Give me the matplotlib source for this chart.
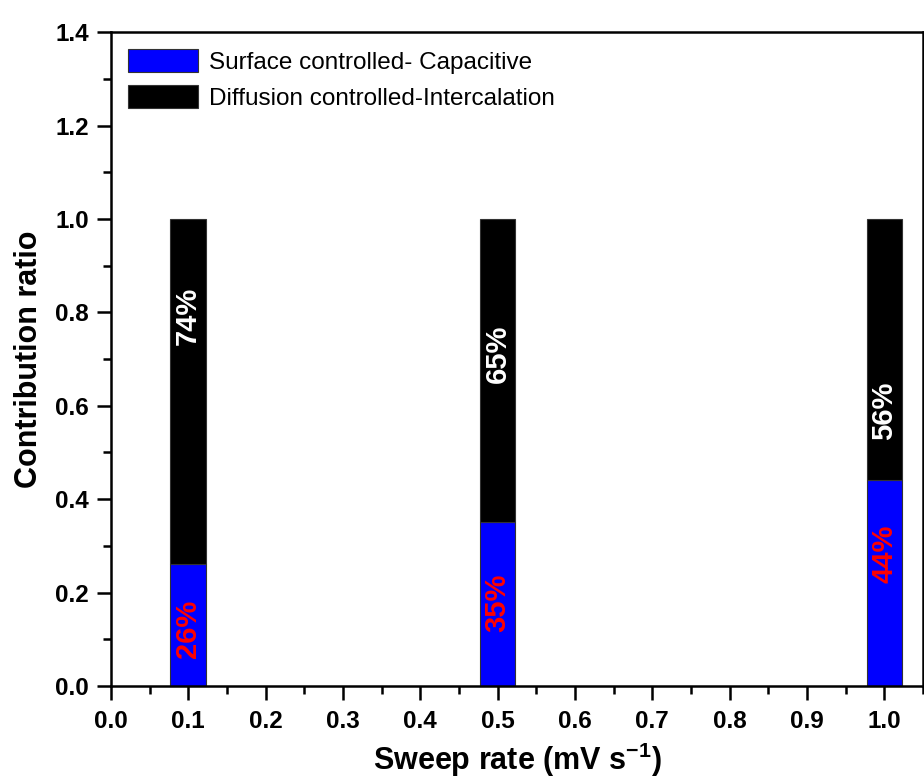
import matplotlib.pyplot as plt
from matplotlib.ticker import MultipleLocator

# data
sweep_rate = [0.1, 0.5, 1.0]
capacitive = [0.26, 0.35, 0.44]
intercalation = [0.74, 0.65, 0.56]
cap_labels = ['26%', '35%', '44%']
int_labels = ['74%', '65%', '56%']

plt.rcParams['font.family'] = ['Liberation Sans', 'DejaVu Sans']
plt.rcParams['mathtext.fontset'] = 'custom'
plt.rcParams['mathtext.rm'] = 'Liberation Sans'
plt.rcParams['mathtext.bf'] = 'Liberation Sans:bold'

fig = plt.figure(figsize=(9.24, 7.83), dpi=100)
ax = fig.add_axes([0.120, 0.124, 0.879, 0.835])

ax.bar(sweep_rate, capacitive, width=0.046, color='#0000ff',
       edgecolor='#333333', linewidth=0.8, label='Surface controlled- Capacitive')
ax.bar(sweep_rate, intercalation, width=0.046, bottom=capacitive, color='black',
       edgecolor='#333333', linewidth=0.8, label='Diffusion controlled-Intercalation')

# percentage text inside bars
cap_y = [0.122, 0.178, 0.283]
int_y = [0.792, 0.711, 0.589]
for x, yc, yi, lc, li in zip(sweep_rate, cap_y, int_y, cap_labels, int_labels):
    ax.text(x, yc, lc, rotation=90, color='red', fontsize=21, fontweight='bold',
            ha='center', va='center')
    ax.text(x, yi, li, rotation=90, color='white', fontsize=21, fontweight='bold',
            ha='center', va='center')

ax.set_xlim(0, 1.05)
ax.set_ylim(0, 1.4)
ax.xaxis.set_major_locator(MultipleLocator(0.1))
ax.xaxis.set_minor_locator(MultipleLocator(0.05))
ax.yaxis.set_major_locator(MultipleLocator(0.2))
ax.yaxis.set_minor_locator(MultipleLocator(0.1))
ax.tick_params(which='major', direction='out', length=10, width=1.8, labelsize=17.5)
ax.tick_params(axis='x', which='major', pad=7)
ax.tick_params(axis='y', which='major', pad=6)
ax.tick_params(which='minor', direction='out', length=5.5, width=1.8)
for lab in ax.get_xticklabels() + ax.get_yticklabels():
    lab.set_fontweight('bold')
for sp in ax.spines.values():
    sp.set_linewidth(1.8)

ax.set_xlabel('Sweep rate (mV s$^{\\mathbf{-1}}$)', fontsize=22, fontweight='bold',
              labelpad=6)
ax.set_ylabel('Contribution ratio', fontsize=22, fontweight='bold', labelpad=8)

ax.legend(loc='upper left', frameon=False, fontsize=17.5, handlelength=2.9,
          handleheight=1.1, handletextpad=0.45, labelspacing=0.45,
          borderaxespad=0.4, borderpad=0.3)

fig.savefig('out.png', dpi=100)
